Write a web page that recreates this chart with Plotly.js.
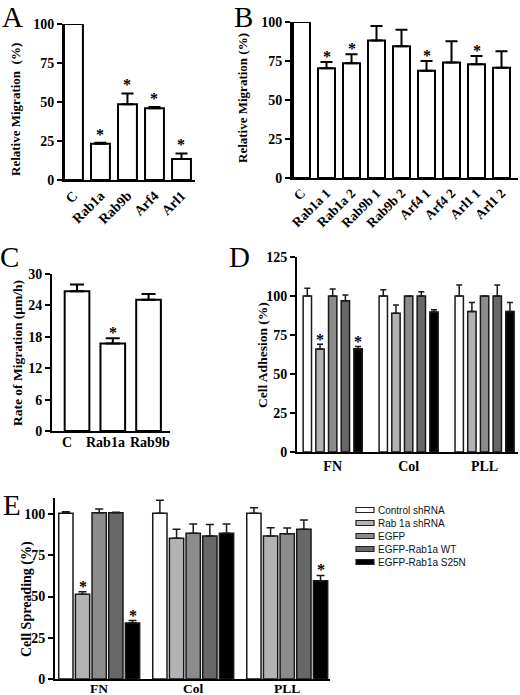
<!DOCTYPE html>
<html><head><meta charset="utf-8">
<script src="https://cdn.plot.ly/plotly-3.0.1.min.js"></script>
<style>html,body{margin:0;padding:0;background:#fff}#chart{width:520px;height:695px}</style>
</head><body><div id="chart"></div>
<script>
// ---------- DATA ----------
const aCats = ['C','Rab1a','Rab9b','Arf4','Arl1'];
const aVals = [100, 23.2, 48.5, 46, 13.5];
const aErr  = [0, 0.6, 7, 0.8, 3.5];
const aSig  = [0, 1, 1, 1, 1];

const bCats = ['C','Rab1a 1','Rab1a 2','Rab9b 1','Rab9b 2','Arf4 1','Arf4 2','Arl1 1','Arl1 2'];
const bVals = [100, 70.3, 73.5, 88.2, 84.4, 68.8, 74.1, 72.9, 70.7];
const bErr  = [0, 4.1, 5.8, 9.2, 10.6, 6.2, 13.5, 5.3, 10.5];
const bSig  = [0, 1, 1, 0, 0, 1, 0, 1, 0];

const cCats = ['C','Rab1a','Rab9b'];
const cVals = [26.7, 16.7, 25.1];
const cErr  = [1.3, 1.0, 1.1];
const cSig  = [0, 1, 0];

const surfaces = ['FN','Col','PLL'];
const seriesNames = ['Control shRNA','Rab 1a shRNA','EGFP','EGFP-Rab1a WT','EGFP-Rab1a S25N'];
const seriesColors = ['#ffffff','#b3b3b3','#8c8c8c','#676767','#000000'];

const dVals = [
  [100, 100, 100],
  [66, 88.9, 90],
  [100, 100, 100],
  [97, 100, 100],
  [66.2, 89.7, 90]
];
const dErr = [
  [5, 4, 7],
  [3, 5.3, 5.8],
  [4.5, 0, 0],
  [3.6, 2.8, 7],
  [1.5, 1.5, 5.8]
];
const dSig = [[0,0,0],[1,0,0],[0,0,0],[0,0,0],[1,0,0]];

const eVals = [
  [100.4, 100.4, 100.4],
  [51.3, 85.3, 86.7],
  [100.8, 88.3, 88],
  [100.8, 86.7, 90.7],
  [33.9, 88.3, 59.6]
];
const eErr = [
  [1, 8, 3.4],
  [1.6, 5.4, 5],
  [2.2, 5.7, 3.5],
  [0.3, 7, 5.7],
  [1.5, 5.7, 3.2]
];
const eSig = [[0,0,0],[1,0,0],[0,0,0],[0,0,0],[1,0,1]];

// ---------- HELPERS ----------
const W = 520, H = 695;
const SERIF = 'Liberation Serif, Times New Roman, serif';
const px = v => v / W;
const py = v => 1 - v / H;

const traces = [];
const annotations = [];
const shapes = [];

function simpleBars(cats, vals, err, sig, ax, width, capW, starShift) {
  traces.push({
    type: 'bar', x: cats, y: vals, xaxis: 'x' + ax, yaxis: 'y' + ax,
    width: width,
    marker: {color: '#ffffff', line: {color: '#000', width: 2}},
    error_y: {type: 'data', array: err, arrayminus: err.map(() => 0), symmetric: false,
              color: '#000', thickness: 2, width: capW, visible: true},
    hoverinfo: 'none'
  });
  cats.forEach((c, i) => {
    if (sig[i]) annotations.push({
      x: i, y: vals[i] + err[i], xref: 'x' + ax, yref: 'y' + ax,
      text: '*', showarrow: false, yanchor: 'bottom', yshift: starShift,
      font: {family: SERIF, size: 16, color: '#000', weight: 'bold'}
    });
  });
}

function groupedBars(vals, err, sig, ax, groupW, barW, capW, starShift) {
  const pitch = groupW / seriesNames.length;
  seriesNames.forEach((name, s) => {
    const off = -groupW / 2 + s * pitch + (pitch - barW) / 2;
    traces.push({
      type: 'bar', name: name, x: surfaces, y: vals[s], xaxis: 'x' + ax, yaxis: 'y' + ax,
      width: barW, offset: off,
      marker: {color: seriesColors[s], line: {color: '#1a1a1a', width: 1.5}},
      error_y: {type: 'data', array: err[s], arrayminus: err[s].map(() => 0), symmetric: false,
                color: '#1a1a1a', thickness: 1.5, width: capW, visible: true},
      hoverinfo: 'none', showlegend: false
    });
    surfaces.forEach((g, i) => {
      if (sig[s][i]) annotations.push({
        x: i + off + barW / 2, y: vals[s][i] + err[s][i], xref: 'x' + ax, yref: 'y' + ax,
        text: '*', showarrow: false, yanchor: 'bottom', yshift: starShift,
        font: {family: SERIF, size: 16, color: '#000', weight: 'bold'}
      });
    });
  });
}

simpleBars(aCats, aVals, aErr, aSig, '', 0.7, 6, -2);
simpleBars(bCats, bVals, bErr, bSig, '2', 0.68, 6, -5);
simpleBars(cCats, cVals, cErr, cSig, '3', 0.69, 7, -5);
groupedBars(dVals, dErr, dSig, '4', 0.835, 0.11, 3, -6);
groupedBars(eVals, eErr, eSig, '5', 0.886, 0.152, 4, -5);

// ---------- AXES ----------
const tickF = {family: SERIF, size: 14, color: '#000', weight: 'bold'};
function yAx(dom, range, dtick, anchor) {
  return {domain: dom, range: range, dtick: dtick, tick0: 0, anchor: anchor,
          showline: true, linecolor: '#000', linewidth: 2, ticks: 'outside', ticklen: 5,
          tickwidth: 2, tickcolor: '#000', showgrid: false, zeroline: false,
          tickfont: tickF, fixedrange: true};
}
function xAx(dom, range, anchor, angle, size, show) {
  return {domain: dom, range: range, type: 'category', anchor: anchor,
          showline: true, linecolor: '#000', linewidth: 2, ticks: '', ticklen: 0, showgrid: false,
          zeroline: false, tickangle: angle, showticklabels: show,
          tickfont: {family: SERIF, size: size, color: '#000', weight: 'bold'}, fixedrange: true};
}

const layout = {
  width: W, height: H, margin: {l: 0, r: 0, t: 0, b: 0},
  paper_bgcolor: '#fff', plot_bgcolor: 'rgba(0,0,0,0)',
  showlegend: false, barmode: 'overlay',
  xaxis:  xAx([px(64), px(195)], [-0.35, 4.5], 'y', -45, 14, true),
  yaxis:  yAx([py(180), py(24)], [0, 100], 25, 'x'),
  xaxis2: xAx([px(292), px(518)], [-0.38, 8.66], 'y2', -45, 13.5, true),
  yaxis2: yAx([py(178), py(22)], [0, 100], 25, 'x2'),
  xaxis3: xAx([px(52), px(170)], [-0.7, 2.6], 'y3', 0, 14, false),
  yaxis3: yAx([py(431), py(274)], [0, 30], 6, 'x3'),
  xaxis4: xAx([px(297), px(518)], [-0.47, 2.44], 'y4', 0, 14, true),
  yaxis4: yAx([py(452), py(257)], [0, 125], 25, 'x4'),
  xaxis5: xAx([px(55), px(330)], [-0.47, 2.455], 'y5', 0, 14, false),
  yaxis5: yAx([py(679), py(497.5)], [0, 110], 25, 'x5'),
  annotations: annotations,
  shapes: shapes
};
layout.yaxis5.tickvals = [0, 25, 50, 75, 100];

// panel C category labels (offset as in the original)
const cLabelShift = [-0.29, -0.21, 0.04];
cCats.forEach((c, i) => {
  annotations.push({text: c, x: i + cLabelShift[i], y: py(442), xref: 'x3', yref: 'paper',
    showarrow: false, xanchor: 'center', yanchor: 'middle',
    font: {family: SERIF, size: 14, color: '#000', weight: 'bold'}});
});

// panel E category labels (placed close to the bottom edge, as in the original)
surfaces.forEach((g, i) => {
  annotations.push({text: g, x: i, y: py(688), xref: 'x5', yref: 'paper',
    showarrow: false, xanchor: 'center', yanchor: 'middle', borderpad: 0,
    font: {family: SERIF, size: 13.5, color: '#000', weight: 'bold'}});
});

// panel letters
[['A', 12, 0, 'top'], ['B', 243, 0, 'top'], ['C', 9, 257, 'middle'], ['D', 239, 257, 'middle'],
 ['E', 12, 505, 'middle']].forEach(([t, x, y, ya]) => {
  annotations.push({text: t, x: px(x), y: py(y), xref: 'paper', yref: 'paper', showarrow: false,
    xanchor: 'center', yanchor: ya, borderpad: 0, font: {family: SERIF, size: 29, color: '#000'}});
});

// y axis titles
[['Relative Migration  (%)', 15, 110, 13], ['Relative Migration (%)', 243, 98, 13],
 ['Rate of Migration (µm/h)', 17, 353, 13.5], ['Cell Adhesion (%)', 262, 355, 13.5],
 ['Cell Spreading (%)', 27, 599, 14]].forEach(([t, x, y, s]) => {
  annotations.push({text: t, x: px(x), y: py(y), xref: 'paper', yref: 'paper', showarrow: false,
    textangle: -90, xanchor: 'center', yanchor: 'middle',
    font: {family: SERIF, size: s, color: '#000', weight: 'bold'}});
});

// legend (drawn as shapes + text)
seriesNames.forEach((n, i) => {
  const yc = 510 + i * 13;
  shapes.push({type: 'rect', xref: 'paper', yref: 'paper', x0: px(356), x1: px(374),
    y0: py(yc + 2.5), y1: py(yc - 2.5), fillcolor: seriesColors[i], line: {color: '#222', width: 1.2}});
  annotations.push({text: n, x: px(376), y: py(yc), xref: 'paper', yref: 'paper', showarrow: false,
    xanchor: 'left', yanchor: 'middle', font: {family: 'Liberation Sans, Arial, sans-serif', size: 10, color: '#111'}});
});

Plotly.newPlot('chart', traces, layout, {staticPlot: true, displayModeBar: false});
</script></body></html>
